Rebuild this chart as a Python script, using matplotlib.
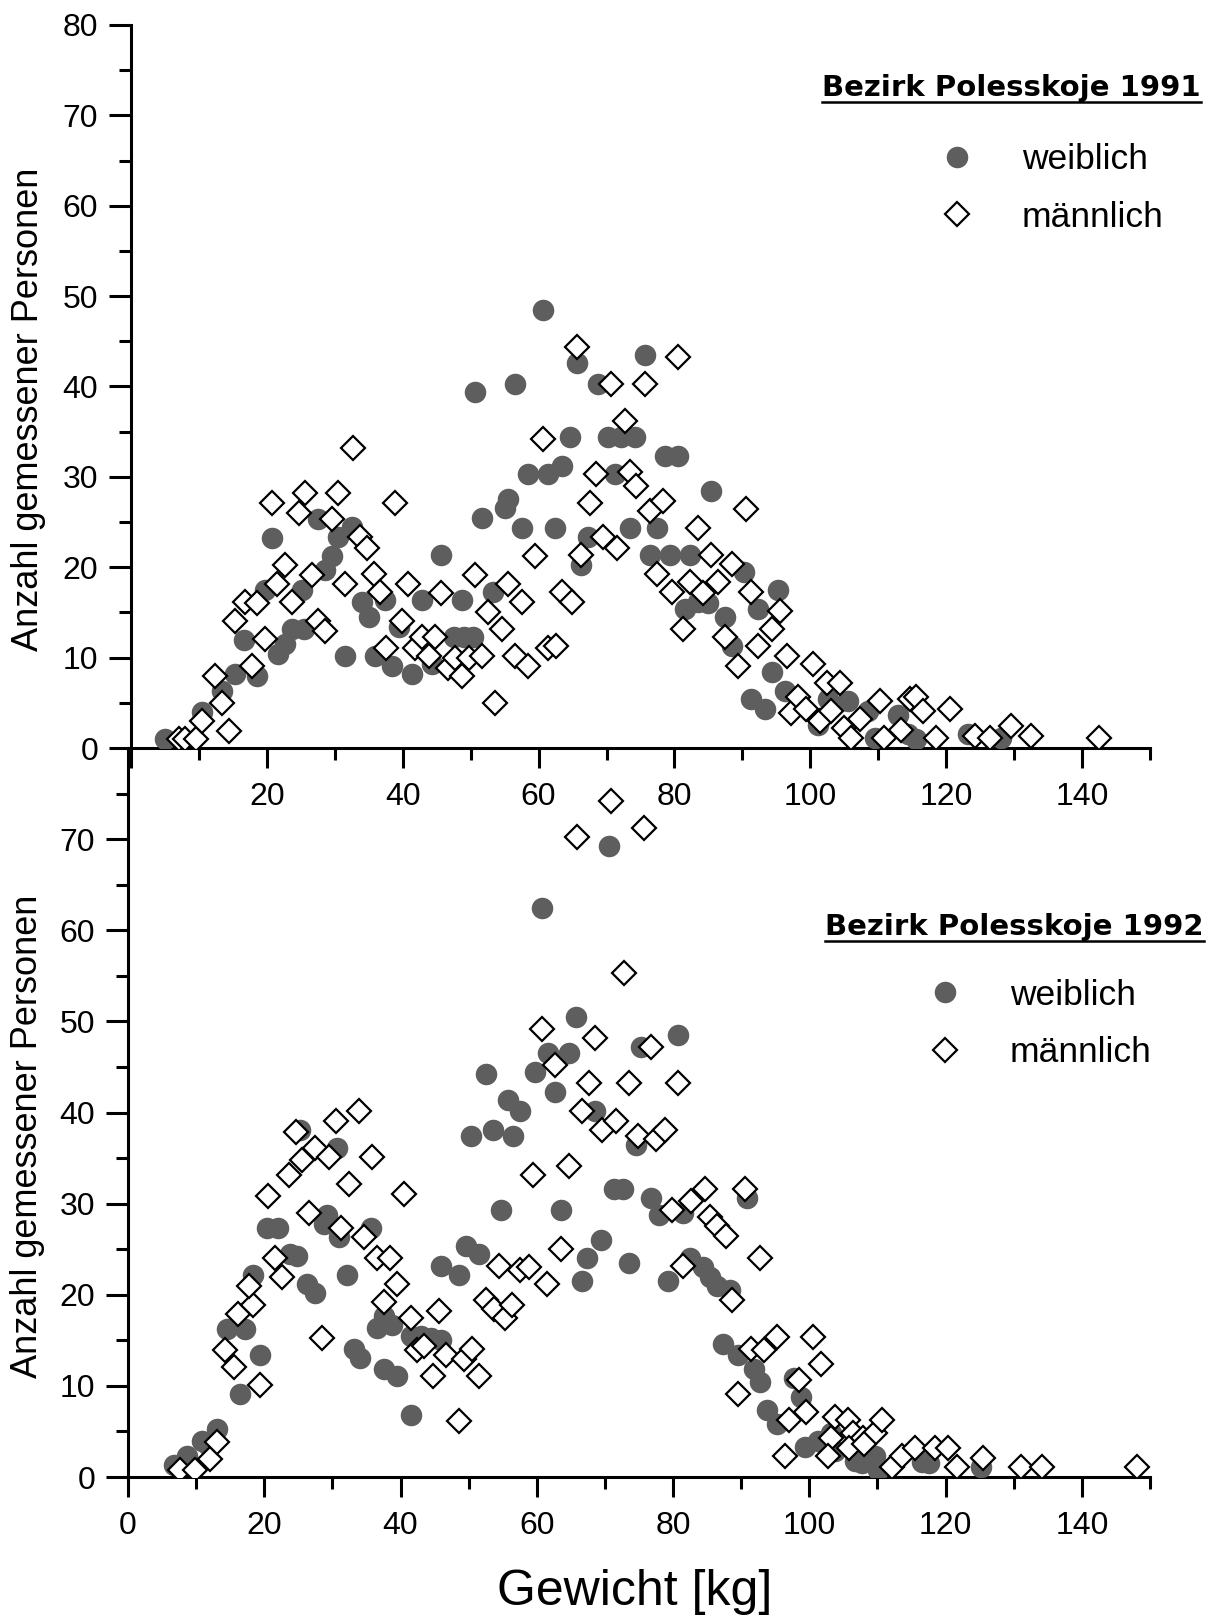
import matplotlib
matplotlib.use("Agg")
import matplotlib.pyplot as plt
from matplotlib.lines import Line2D
from matplotlib.ticker import FixedLocator

plt.rcParams['font.family'] = ['Liberation Sans', 'DejaVu Sans']

# Bezirk Polesskoje 1991
w91_x = [5, 10.4, 13.4, 15.3, 18.5, 16.6, 19.7, 20.7, 21.7, 22.7, 23.7, 25.4, 25.1, 27.6, 28.6, 29.6,
         30.5, 32.5, 31.5, 34, 35, 37.4, 35.9, 38.4, 39.4, 41.3, 42.8, 45.7, 44.3, 47.5, 49, 50.3,
         48.7, 50.6, 51.6, 53.3, 55, 55.5, 56.5, 57.5, 60.7, 65.6, 75.6, 68.8, 64.6, 70.25, 72.2,
         74.2, 78.6, 80.5, 58.5, 61.4, 63.4, 71.2, 62.4, 73.4, 77.4, 85.4, 67.3, 66.3, 76.4, 79.3,
         82.3, 90.3, 95.2, 81.5, 83.5, 85, 87.4, 92.3, 88.4, 94.3, 91.3, 93.3, 96.2, 102.6, 105.5,
         108.5, 101.1, 109.5, 112.9, 114.4, 115.5, 123.2, 128]
w91_y = [1, 4, 6.3, 8.2, 8, 12, 17.5, 23.2, 10.4, 11.5, 13.2, 13.2, 17.5, 25.3, 19.7, 21.2,
         23.4, 24.5, 10.2, 16.2, 14.5, 16.4, 10.2, 9.1, 13.4, 8.2, 16.4, 21.4, 9.3, 12.3, 12.3, 12.3,
         16.4, 39.4, 25.5, 17.3, 26.6, 27.5, 40.3, 24.3, 48.5, 42.6, 43.5, 40.3, 34.4, 34.4, 34.4,
         34.4, 32.3, 32.3, 30.3, 30.3, 31.2, 30.3, 24.3, 24.3, 24.3, 28.4, 23.4, 20.3, 21.4, 21.4,
         21.4, 19.5, 17.5, 15.4, 16.2, 16, 14.5, 15.4, 11.3, 8.4, 5.4, 4.3, 6.3, 5.4, 5.2,
         4.1, 2.6, 1.1, 3.7, 1.5, 1, 1.5, 1.1]

m91_x = [7, 8, 9.5, 10.4, 14.4, 13.4, 12.4, 17.8, 15.3, 16.8, 18.5, 19.7, 20.7, 21.5, 22.7, 23.7,
         24.7, 25.6, 26.6, 27.6, 28.6, 29.6, 30.5, 31.5, 32.7, 33.7, 34.7, 35.7, 36.7, 37.6, 38.9,
         39.85, 40.8, 41.8, 42.8, 43.8, 44.75, 45.7, 46.7, 47.7, 48.7, 49.7, 50.6, 51.6, 52.6, 53.6,
         54.6, 55.5, 56.5, 57.5, 58.5, 59.5, 60.7, 61.4, 62.6, 63.4, 64.9, 65.6, 66.3, 67.5, 68.5,
         69.5, 70.7, 71.5, 72.7, 73.4, 74.4, 75.6, 76.4, 77.4, 78.3, 79.6, 80.5, 81.3, 82.3, 83.5,
         84.2, 85.4, 86.4, 87.4, 88.4, 89.4, 90.6, 91.3, 92.3, 94.3, 95.5, 96.5, 97.2, 98.2, 99.4,
         100.4, 101.4, 102.4, 103.1, 104.3, 105, 106, 107.3, 110.2, 110.9, 113.4, 114.6, 115.6,
         116.6, 118.5, 120.5, 124.2, 126.4, 129.6, 132.5, 142.5]
m91_y = [1, 1, 1, 3, 1.9, 5, 8, 9.1, 14.1, 16.2, 16, 12.1, 27.1, 18.2, 20.3, 16.2,
         26, 28.2, 19.1, 14.1, 13, 25.3, 28.2, 18.2, 33.2, 23.4, 22.1, 19.3, 17.3, 11.1, 27.1,
         14.1, 18.2, 11.1, 12.3, 10.2, 12.3, 17.1, 8.9, 10, 8, 10, 19.1, 10.2, 15, 5,
         13.2, 18.2, 10.2, 16.2, 9.1, 21.2, 34.2, 11.1, 11.3, 17.3, 16.2, 44.4, 21.4, 27.1, 30.3,
         23.4, 40.3, 22.1, 36.2, 30.5, 29, 40.3, 26.2, 19.3, 27.3, 17.3, 43.3, 13.2, 18.4, 24.3,
         17.1, 21.4, 18.4, 12.3, 20.4, 9.1, 26.4, 17.3, 11.3, 13.2, 15.2, 10.2, 3.9, 5.6, 4.3,
         9.3, 3, 7.2, 4.1, 7.2, 2.2, 1.1, 3.2, 5.2, 1.1, 2, 5.4, 5.6,
         4.1, 1.1, 4.3, 1.3, 1.1, 2.4, 1.3, 1.1]

# Bezirk Polesskoje 1992
w92_x = [6.7, 8.6, 10.8, 11.8, 13, 16.5, 19.4, 14.5, 17.2, 18.4, 20.4, 22, 23.8, 24.8, 25.3, 26.3,
         27.5, 28.7, 29.2, 30.7, 30.9, 32.2, 33.1, 34.1, 35.6, 36.5, 37.5, 38.7, 37.5, 39.5, 41.5,
         41.5, 43, 44.5, 46, 45.9, 48.6, 49.6, 51.5, 52.5, 55.7, 57.6, 50.3, 53.5, 56.5, 54.8,
         60.7, 70.6, 65.7, 61.7, 64.7, 75.3, 80.7, 59.8, 62.7, 68.6, 74.6, 63.5, 71.4, 72.6, 76.8,
         78, 81.5, 69.4, 67.4, 73.6, 66.7, 79.3, 82.5, 84.4, 85.4, 86.4, 88.4, 90.9, 87.4, 89.6,
         91.9, 92.8, 93.8, 95.3, 97.8, 98.8, 99.3, 101.2, 103.2, 103.7, 106.7, 108.1, 109.6, 110.1,
         107.8, 116.5, 117.5, 125.2]
w92_y = [1.3, 2.3, 4, 3.5, 5.3, 9.1, 13.4, 16.2, 16.2, 22.2, 27.3, 27.3, 24.5, 24.2, 38.1, 21.2,
         20.2, 27.8, 28.8, 36.1, 26.3, 22.2, 14.1, 13.1, 27.3, 16.3, 17.7, 16.7, 11.9, 11.1, 6.8,
         15.5, 15.5, 15.3, 15, 23.2, 22.2, 25.3, 24.5, 44.2, 41.4, 40.2, 37.4, 38.1, 37.4, 29.3,
         62.4, 69.2, 50.5, 46.5, 46.5, 47.2, 48.5, 44.4, 42.2, 40.2, 36.4, 29.3, 31.6, 31.6, 30.6,
         28.8, 29, 26, 24, 23.5, 21.5, 21.5, 24, 23, 22, 21, 20.5, 30.6, 14.6, 13.4,
         11.9, 10.4, 7.3, 5.8, 10.9, 8.8, 3.3, 4, 4.8, 2.8, 1.8, 2.3, 2.3, 0.8,
         1.5, 1.7, 1.5, 1.1]

m92_x = [7.6, 9.9, 12.1, 13, 15.5, 19.4, 14.3, 16.2, 18.4, 17.7, 20.6, 23.6, 21.6, 22.6, 24.6, 25.5,
         27.5, 29.5, 30.6, 33.9, 32.4, 35.8, 26.5, 31.2, 34.6, 28.5, 36.6, 38.5, 39.5, 37.5, 40.5,
         41.5, 42.4, 43.4, 45.6, 44.7, 46.6, 48.6, 49.3, 50.5, 51.5, 52.5, 53.7, 55.4, 54.5, 56.4,
         57.6, 70.9, 65.9, 75.8, 72.8, 60.7, 68.6, 76.8, 62.7, 67.7, 73.6, 80.7, 66.7, 69.6, 71.6,
         74.8, 77.5, 78.8, 59.5, 64.7, 90.6, 84.7, 82.7, 79.8, 85.4, 86.4, 87.7, 92.8, 63.5, 58.8,
         61.5, 81.5, 88.6, 91.4, 93.3, 95.3, 100.5, 101.7, 89.6, 98.5, 97, 99.5, 96.5, 103.7, 105.7,
         103.2, 106.4, 107.9, 109.6, 102.7, 110.6, 105.8, 108, 112.1, 113.6, 115.5, 118.4, 120.4,
         121.6, 125.5, 131.1, 134.2, 148.1]
m92_y = [0.8, 0.8, 2, 3.8, 12.1, 10.1, 13.9, 17.9, 18.9, 21, 30.8, 33.1, 24, 22, 37.9, 34.8,
         36.1, 35.1, 39.1, 40.2, 32.1, 35.1, 29, 27.3, 26.3, 15.2, 24, 24, 21.2, 19.2, 31.1,
         17.4, 13.9, 14.4, 18.2, 11.1, 13.4, 6.1, 12.9, 14.1, 11.1, 19.4, 18.4, 17.4, 23.2, 18.9,
         22.7, 74.2, 70.2, 71.2, 55.3, 49.2, 48.2, 47.2, 45.2, 43.2, 43.2, 43.2, 40.2, 38.1, 39.1,
         37.4, 37.1, 38.1, 33.1, 34.1, 31.6, 31.6, 30.3, 29.3, 28.5, 27.5, 26.5, 24, 25, 23,
         21.2, 23.2, 19.4, 14.1, 13.9, 15.4, 15.4, 12.4, 9.1, 10.6, 6.3, 7.1, 2.3, 6.6, 6.3,
         4.3, 4.8, 4.3, 4.8, 2.3, 6.3, 3.2, 3.6, 1.1, 2.3, 3.2, 3.2, 3.2,
         1.1, 2.1, 1.1, 1.1, 1.1]

W, H = 1220, 1617
fig = plt.figure(figsize=(W / 100, H / 100), dpi=100)


def box(l, r, t, b):
    return [l / W, 1 - b / H, (r - l) / W, (b - t) / H]


ax2 = fig.add_axes(box(128, 1150, 748, 1477))
ax1 = fig.add_axes(box(131, 1150, 25, 748))


def style(ax, ymax_label, show_x0):
    for s in ['top', 'right']:
        ax.spines[s].set_visible(False)
    for s in ['left', 'bottom']:
        ax.spines[s].set_linewidth(2.2)
    ax.set_facecolor('none')
    ax.set_xlim(0, 150)
    ax.set_ylim(0, 80)
    ax.set_xticks(range(0, 141, 20))
    ax.set_xticklabels([str(v) if (v > 0 or show_x0) else '' for v in range(0, 141, 20)])
    ax.xaxis.set_minor_locator(FixedLocator(range(10, 151, 20)))
    ax.set_yticks(range(0, ymax_label + 1, 10))
    ax.yaxis.set_minor_locator(FixedLocator(range(5, 80, 10)))
    ax.tick_params(axis='x', which='major', length=14.5, width=2.2, pad=10, labelsize=23)
    ax.tick_params(axis='x', which='minor', length=8.5, width=2.2)
    ax.tick_params(axis='y', which='major', length=15.5, width=2.2, pad=8, labelsize=23)
    ax.tick_params(axis='y', which='minor', length=8.5, width=2.2)
    ax.set_ylabel('Anzahl gemessener Personen', fontsize=26)


def panel(ax, wx, wy, mx, my):
    ax.plot(wx, wy, 'o', ms=15.5, color='#5e5e5e', mew=0, label='weiblich', zorder=3)
    ax.plot(mx, my, 'D', ms=12, mfc='white', mec='black', mew=1.6, label='männlich', zorder=4)


panel(ax1, w91_x, w91_y, m91_x, m91_y)
panel(ax2, w92_x, w92_y, m92_x, m92_y)
style(ax1, 80, False)
style(ax2, 70, True)
ax1.yaxis.set_label_coords(-0.083, 0.468)
ax2.yaxis.set_label_coords(-0.081, 0.468)

fig.text(635 / W, 1 - 1605 / H, 'Gewicht [kg]', ha='center', va='baseline', fontsize=36)

LEG_FS = 25.5
EM = LEG_FS * 100 / 72


def heading(ax, text, left, base, marker_x, first_row):
    t = fig.text(left / W, 1 - base / H, text, fontsize=21, fontweight='bold',
                 family='DejaVu Sans', va='baseline')
    fig.canvas.draw()
    bb = t.get_window_extent()
    uy = 1 - (base + 6) / H
    fig.add_artist(Line2D([bb.x0 / W, bb.x1 / W], [uy, uy], color='black', lw=1.8))
    ax.legend(loc='upper left', bbox_to_anchor=((marker_x - EM) / W, 1 - (first_row - 0.38 * EM) / H),
              bbox_transform=fig.transFigure, frameon=False, fontsize=LEG_FS, numpoints=1,
              borderpad=0, borderaxespad=0, handlelength=2, handletextpad=0.83,
              labelspacing=0.69)


heading(ax1, 'Bezirk Polesskoje 1991', 822, 96, 957, 156.7)
heading(ax2, 'Bezirk Polesskoje 1992', 825, 935, 945, 992)

fig.savefig('out.png', dpi=100)
